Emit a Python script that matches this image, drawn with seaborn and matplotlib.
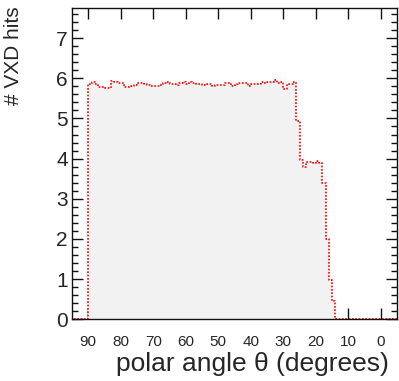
import numpy as np
import pandas as pd
import matplotlib
matplotlib.use("Agg")
import matplotlib.pyplot as plt
from matplotlib.ticker import AutoMinorLocator, MultipleLocator
import seaborn as sns

# ---- data ----
bin_edges = [float(e) for e in range(-5, 96)]   # 1-degree bins from -5 to 95
theta_centers = [e + 0.5 for e in bin_edges[:-1]]
hits_high_to_low = [
    # 94.5 .. 90.5
    0, 0, 0, 0, 0,
    # 89.5 .. 80.5
    5.85, 5.92, 5.87, 5.79, 5.78, 5.77, 5.77, 5.94, 5.90, 5.89,
    # 79.5 .. 70.5
    5.88, 5.79, 5.79, 5.82, 5.84, 5.88, 5.89, 5.86, 5.83, 5.80,
    # 69.5 .. 60.5
    5.82, 5.82, 5.84, 5.89, 5.90, 5.87, 5.86, 5.84, 5.89, 5.90,
    # 59.5 .. 50.5
    5.87, 5.91, 5.89, 5.87, 5.85, 5.83, 5.86, 5.85, 5.80, 5.84,
    # 49.5 .. 40.5
    5.84, 5.84, 5.88, 5.89, 5.82, 5.87, 5.88, 5.89, 5.88, 5.82,
    # 39.5 .. 30.5
    5.86, 5.86, 5.87, 5.91, 5.88, 5.91, 5.91, 5.95, 5.88, 5.90,
    # 29.5 .. 20.5
    5.74, 5.85, 5.87, 5.91, 4.93, 3.96, 3.78, 3.92, 3.92, 3.90,
    # 19.5 .. 10.5
    3.95, 3.88, 3.40, 1.99, 0.98, 0.46, 0, 0, 0, 0,
    # 9.5 .. -4.5
    0, 0, 0, 0, 0, 0, 0, 0, 0, 0, 0, 0, 0, 0, 0,
]
hits = hits_high_to_low[::-1]
x_ticks = [90, 80, 70, 60, 50, 40, 30, 20, 10, 0]

df = pd.DataFrame({"theta": theta_centers, "hits": hits})

# ---- style ----
sns.set_style("ticks")
plt.rcParams["font.family"] = ["Liberation Sans", "DejaVu Sans"]

fig = plt.figure(figsize=(3.99, 3.81), dpi=100)
ax = fig.add_axes([72 / 399, 1 - 319.3 / 381, 325 / 399, 311.3 / 381])

sns.histplot(data=df, x="theta", weights="hits", bins=bin_edges,
             element="step", fill=True, color="#f2f2f2", alpha=1,
             linewidth=0, ax=ax)
sns.histplot(data=df, x="theta", weights="hits", bins=bin_edges,
             element="step", fill=False, color="#ff0000",
             linewidth=1.2, linestyle=(0, (1, 1)), ax=ax)

ax.set_xlim(95, -5)
ax.set_ylim(0, 7.75)
ax.set_xticks(x_ticks)
ax.set_xticklabels([str(t) for t in x_ticks])
ax.yaxis.set_major_locator(MultipleLocator(1))
ax.yaxis.set_minor_locator(AutoMinorLocator(5))

for s in ax.spines.values():
    s.set_visible(True)
    s.set_linewidth(1.0)
    s.set_color("#111111")

ax.tick_params(axis="both", which="major", direction="in", top=True,
               right=True, length=8, width=1, color="#111111")
ax.tick_params(axis="y", which="minor", direction="in", right=True,
               length=4.5, width=1, color="#111111")
ax.tick_params(axis="x", which="major", labelsize=11, pad=11)
ax.tick_params(axis="y", which="major", labelsize=15, pad=3)

ax.set_xlabel("polar angle θ (degrees)", fontsize=19, loc="right")
ax.xaxis.set_label_coords(0.975, -0.105)
ax.set_ylabel("# VXD hits", fontsize=15, loc="top")
ax.yaxis.set_label_coords(-0.15, 1.005)

fig.savefig("out.png", dpi=100)
